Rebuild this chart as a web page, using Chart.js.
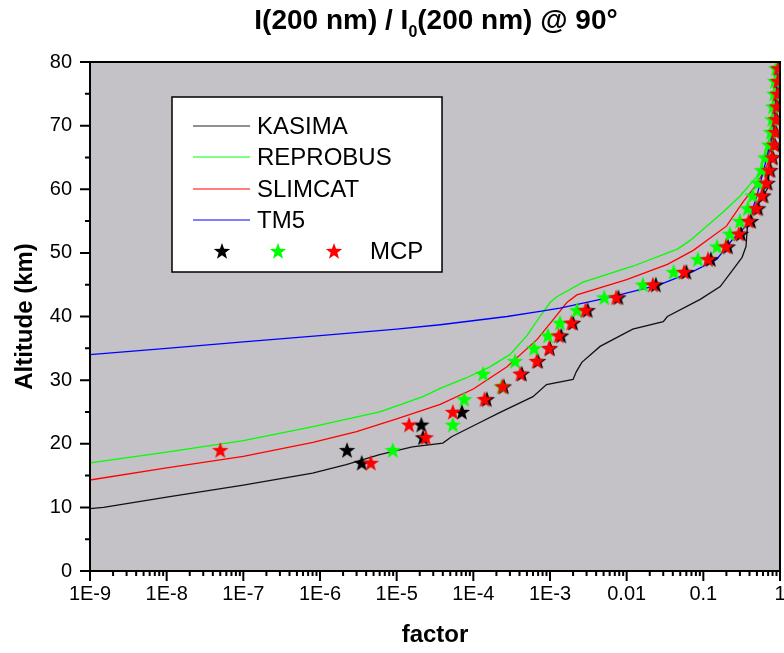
<!DOCTYPE html>
<html>
<head>
<meta charset="utf-8">
<script src="https://cdn.jsdelivr.net/npm/chart.js@4.4.1/dist/chart.umd.min.js"></script>
<style>
body{margin:0;background:#fff;overflow:hidden;}
#wrap{position:relative;width:784px;height:653px;}
#title{position:absolute;left:136px;width:600px;top:4px;text-align:center;font:bold 28px Arial,"Liberation Sans",sans-serif;color:#000;white-space:nowrap;}
#title span{font-size:16px;position:relative;top:8px;}
</style>
</head>
<body>
<div id="wrap">
<canvas id="altChart" width="784" height="653"></canvas>
<div id="title">I(200 nm) / I<span>0</span>(200 nm) @ 90°</div>
</div>
<script>
// transmission factor vs altitude

const xTickValues = [1e-9,1e-8,1e-7,1e-6,1e-5,1e-4,1e-3,1e-2,1e-1,1];
const xTickLabels = ["1E-9","1E-8","1E-7","1E-6","1E-5","1E-4","1E-3","0.01","0.1","1"];
const yTickValues = [0,10,20,30,40,50,60,70,80];

const kasimaFactor = [1e-9,1.5e-9,1e-8,1e-7,8e-7,2.2e-6,6e-6,1.6e-5,4e-5,5.2e-5,1.2e-4,2.2e-4,6e-4,9e-4,2e-3,2.2e-3,2.6e-3,4.5e-3,0.012,0.030,0.034,0.091,0.166,0.245,0.32,0.36,0.38,0.68,0.86,0.96];
const kasimaAlt = [9.8,10.0,11.6,13.5,15.4,16.7,18.3,19.5,20.1,21.1,23.3,24.9,27.4,29.3,30.1,31.3,32.8,35.3,38.0,39.2,40.0,42.7,44.7,47.4,49.3,51.0,55.0,60,70,80];

const reprobusFactor = [1e-9,1e-8,1e-7,8.1e-7,6e-6,1.1e-5,2.2e-5,3.7e-5,7.9e-5,1.6e-4,3e-4,5e-4,7.4e-4,1e-3,1.23e-3,2.7e-3,0.012,0.046,0.068,0.18,0.30,0.50,0.68,0.83,0.95];
const reprobusAlt = [17.0,18.7,20.5,22.7,25.0,26.1,27.4,28.7,30.3,32.0,34.0,37.0,40.0,42.2,43.1,45.4,47.9,50.6,52.0,56.4,58.9,62.0,65.8,71,80];

const slimcatFactor = [1e-9,1e-8,1e-7,8.1e-7,3e-6,1e-5,3.7e-5,1e-4,2.75e-4,6.8e-4,1.1e-3,1.66e-3,2.24e-3,0.01,0.034,0.074,0.2,0.33,0.5,0.68,0.83,0.95];
const slimcatAlt = [14.3,16.2,18.0,20.2,21.9,23.9,26.2,28.6,32.1,36.4,39.5,42.2,43.4,45.8,48.2,50.4,54.2,58.0,60.8,63.8,70,80];

const tm5Factor = [1e-9,1e-8,1e-7,1e-6,1e-5,3.7e-5,2.75e-4,7.4e-4,1.35e-3,6e-3,0.027,0.074,0.15,0.24,0.38,0.5,0.63,0.85,0.95];
const tm5Alt = [34.0,35.0,36.0,37.0,38.0,38.7,40.0,40.8,41.3,43.0,45.0,47.1,49.0,52.1,54.5,59.0,63.6,70,80];

// MCP stars, one value per altitude (null = no star)
const mcpAlt = [17,19,21,23,25,27,29,31,33,35,37,39,41,43,45,47,49,51,53,55,57,59,61,63,65,67,69,71,73,75,77,79];
const mcpBlack = [3.5e-6,2.25e-6,2.2e-5,2.1e-5,7.1e-5,1.5e-4,2.5e-4,4.3e-4,7.0e-4,1.0e-3,1.4e-3,2.0e-3,3.1e-3,7.8e-3,0.024,0.060,0.125,0.21,0.31,0.42,0.52,0.61,0.69,0.75,0.81,0.86,0.89,0.91,0.93,0.95,0.96,0.97];
const mcpGreen = [null,8.9e-6,null,5.4e-5,null,7.6e-5,2.35e-4,1.34e-4,3.5e-4,6.2e-4,9.4e-4,1.35e-3,2.25e-3,5.1e-3,0.0163,0.041,0.085,0.151,0.222,0.30,0.38,0.44,0.52,0.58,0.64,0.72,0.76,0.79,0.81,0.84,0.86,0.89];
const mcpRed = [4.6e-6,5.0e-8,2.4e-5,1.45e-5,5.4e-5,1.4e-4,2.4e-4,4.1e-4,6.7e-4,9.7e-4,1.3e-3,1.9e-3,2.9e-3,7.3e-3,0.022,0.056,0.115,0.197,0.29,0.39,0.49,0.58,0.66,0.72,0.79,0.84,0.87,0.89,0.91,0.93,0.94,0.95];

function toPoints(xs, ys){
const pts = [];
for(let i=0;i<xs.length;i++){
if(xs[i] !== null) pts.push({x:xs[i], y:ys[i]});
}
return pts;
}

function makeStar(color){
const c = document.createElement('canvas');
c.width = 18; c.height = 18;
const g = c.getContext('2d');
g.beginPath();
for(let i=0;i<10;i++){
const r = i%2 ? 3.5 : 8.6;
const a = -Math.PI/2 + i*Math.PI/5;
g.lineTo(9 + r*Math.cos(a), 9.7 + r*Math.sin(a));
}
g.closePath();
g.fillStyle = color;
g.fill();
return c;
}

const starBlack = makeStar('#000000');
const starGreen = makeStar('#00ff00');
const starRed = makeStar('#ff0000');

const legendRows = [
{label:'KASIMA', color:'#222222', y:126},
{label:'REPROBUS', color:'#00ff00', y:157},
{label:'SLIMCAT', color:'#ff0000', y:189},
{label:'TM5', color:'#0000ff', y:220}
];

const plotFrame = {
id:'plotFrame',
beforeDatasetsDraw(chart){
const {ctx, chartArea:a} = chart;
ctx.save();
ctx.fillStyle = '#c4c2c6';
ctx.fillRect(a.left, a.top, a.right-a.left, a.bottom-a.top);
ctx.restore();
},
afterDraw(chart){
const {ctx, chartArea:a} = chart;
const xs = chart.scales.x, ys = chart.scales.y;
ctx.save();
ctx.strokeStyle = '#000';
ctx.lineWidth = 2;
ctx.strokeRect(a.left, a.top, a.right-a.left, a.bottom-a.top);

// ticks
ctx.beginPath();
yTickValues.forEach((v,i) => {
const p = ys.getPixelForValue(v);
ctx.moveTo(a.left-10, p); ctx.lineTo(a.left, p);
if(i < yTickValues.length-1){
const m = ys.getPixelForValue(v+5);
ctx.moveTo(a.left-5, m); ctx.lineTo(a.left, m);
}
});
xTickValues.forEach((v,i) => {
const p = xs.getPixelForValue(v);
ctx.moveTo(p, a.bottom); ctx.lineTo(p, a.bottom+10);
if(i < xTickValues.length-1){
for(let k=2;k<10;k++){
const m = xs.getPixelForValue(v*k);
ctx.moveTo(m, a.bottom); ctx.lineTo(m, a.bottom+5);
}
}
});
ctx.stroke();

// legend
ctx.fillStyle = '#fff';
ctx.fillRect(172, 97, 270, 175);
ctx.lineWidth = 1.5;
ctx.strokeStyle = '#000';
ctx.strokeRect(172, 97, 270, 175);
ctx.font = '24px Arial, "Liberation Sans", sans-serif';
ctx.textBaseline = 'middle';
legendRows.forEach(r => {
ctx.strokeStyle = r.color;
ctx.lineWidth = 1.2;
ctx.beginPath();
ctx.moveTo(193, r.y); ctx.lineTo(250, r.y);
ctx.stroke();
ctx.fillStyle = '#000';
ctx.fillText(r.label, 257, r.y+1);
});
ctx.drawImage(starBlack, 213, 242);
ctx.drawImage(starGreen, 269, 242);
ctx.drawImage(starRed, 325, 242);
ctx.fillStyle = '#000';
ctx.fillText('MCP', 370, 252);
ctx.restore();
}
};

const ctx = document.getElementById('altChart');

new Chart(ctx,{
type:'scatter',
data:{
datasets:[
{label:'MCP red', data:toPoints(mcpRed, mcpAlt), pointStyle:starRed, pointRadius:9, order:0},
{label:'MCP green', data:toPoints(mcpGreen, mcpAlt), pointStyle:starGreen, pointRadius:9, order:1},
{label:'MCP black', data:toPoints(mcpBlack, mcpAlt), pointStyle:starBlack, pointRadius:9, order:2},
{label:'TM5', data:toPoints(tm5Factor, tm5Alt), showLine:true, borderColor:'#0000ff', borderWidth:1.3, pointRadius:0, order:3},
{label:'SLIMCAT', data:toPoints(slimcatFactor, slimcatAlt), showLine:true, borderColor:'#ff0000', borderWidth:1.3, pointRadius:0, order:4},
{label:'REPROBUS', data:toPoints(reprobusFactor, reprobusAlt), showLine:true, borderColor:'#00ff00', borderWidth:1.3, pointRadius:0, order:5},
{label:'KASIMA', data:toPoints(kasimaFactor, kasimaAlt), showLine:true, borderColor:'#111111', borderWidth:1.3, pointRadius:0, order:6}
]
},
options:{
responsive:false,
animation:false,
devicePixelRatio:1,
layout:{autoPadding:false, padding:{top:62, right:4, left:0, bottom:0}},
plugins:{
legend:{display:false},
tooltip:{enabled:false}
},
scales:{
x:{
type:'logarithmic',
min:1e-9,
max:1,
grid:{display:false, drawTicks:false},
border:{display:false},
afterBuildTicks:function(s){
s.ticks = xTickValues.map(v => ({value:v, major:true}));
},
afterFit:function(s){
s.height = 82;
s.paddingLeft = 0;
s.paddingRight = 0;
},
ticks:{
autoSkip:false,
maxRotation:0,
padding:11,
color:'#000',
font:{family:'Arial, "Liberation Sans", sans-serif', size:20},
callback:function(value, index){
return xTickLabels[index];
}
},
title:{
display:true,
text:'factor',
color:'#000',
font:{family:'Arial, "Liberation Sans", sans-serif', size:24, weight:'bold'},
padding:{top:0, bottom:3}
}
},
y:{
min:0,
max:80,
grid:{display:false, drawTicks:false},
border:{display:false},
afterBuildTicks:function(s){
s.ticks = yTickValues.map(v => ({value:v}));
},
afterFit:function(s){
s.width = 90;
},
ticks:{
padding:18,
color:'#000',
font:{family:'Arial, "Liberation Sans", sans-serif', size:20}
},
title:{
display:true,
text:'Altitude (km)',
color:'#000',
font:{family:'Arial, "Liberation Sans", sans-serif', size:24, weight:'bold'},
padding:{top:11, bottom:0}
}
}
}
},
plugins:[plotFrame]
});
</script>
</body>
</html>
